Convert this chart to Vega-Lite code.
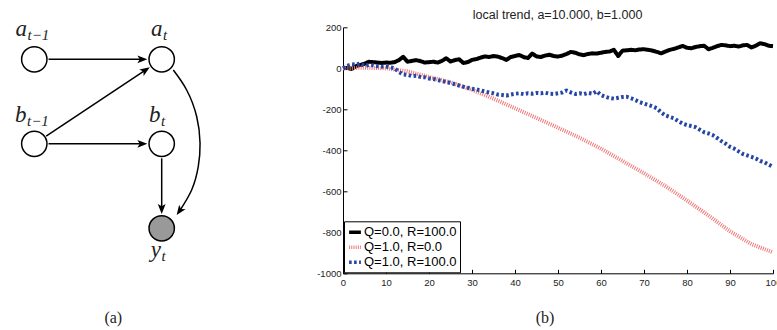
{
  "$schema": "https://vega.github.io/schema/vega-lite/v6.json",
  "width": 430,
  "height": 246,
  "autosize": "none",
  "padding": {"left": 343, "top": 27.3, "right": 4, "bottom": 56.7},
  "background": "white",
  "config": {"view": {"stroke": null}, "font": "Liberation Sans"},
  "datasets": {
    "lines": [
      {"series":"Q=0.0, R=100.0","t":0,"v":0},{"series":"Q=0.0, R=100.0","t":1,"v":2},{"series":"Q=0.0, R=100.0","t":2,"v":-3},{"series":"Q=0.0, R=100.0","t":3,"v":10},{"series":"Q=0.0, R=100.0","t":4,"v":16},{"series":"Q=0.0, R=100.0","t":5,"v":22},{"series":"Q=0.0, R=100.0","t":6,"v":32},{"series":"Q=0.0, R=100.0","t":7,"v":30},{"series":"Q=0.0, R=100.0","t":8,"v":28},{"series":"Q=0.0, R=100.0","t":9,"v":26},{"series":"Q=0.0, R=100.0","t":10,"v":28},
      {"series":"Q=0.0, R=100.0","t":11,"v":27},{"series":"Q=0.0, R=100.0","t":12,"v":30},{"series":"Q=0.0, R=100.0","t":13,"v":40},{"series":"Q=0.0, R=100.0","t":14,"v":56},{"series":"Q=0.0, R=100.0","t":15,"v":32},{"series":"Q=0.0, R=100.0","t":16,"v":36},{"series":"Q=0.0, R=100.0","t":17,"v":40},{"series":"Q=0.0, R=100.0","t":18,"v":35},{"series":"Q=0.0, R=100.0","t":19,"v":28},{"series":"Q=0.0, R=100.0","t":20,"v":30},
      {"series":"Q=0.0, R=100.0","t":21,"v":32},{"series":"Q=0.0, R=100.0","t":22,"v":28},{"series":"Q=0.0, R=100.0","t":23,"v":36},{"series":"Q=0.0, R=100.0","t":24,"v":49},{"series":"Q=0.0, R=100.0","t":25,"v":33},{"series":"Q=0.0, R=100.0","t":26,"v":40},{"series":"Q=0.0, R=100.0","t":27,"v":44},{"series":"Q=0.0, R=100.0","t":28,"v":26},{"series":"Q=0.0, R=100.0","t":29,"v":30},{"series":"Q=0.0, R=100.0","t":30,"v":41},
      {"series":"Q=0.0, R=100.0","t":31,"v":45},{"series":"Q=0.0, R=100.0","t":32,"v":52},{"series":"Q=0.0, R=100.0","t":33,"v":58},{"series":"Q=0.0, R=100.0","t":34,"v":55},{"series":"Q=0.0, R=100.0","t":35,"v":60},{"series":"Q=0.0, R=100.0","t":36,"v":57},{"series":"Q=0.0, R=100.0","t":37,"v":50},{"series":"Q=0.0, R=100.0","t":38,"v":41},{"series":"Q=0.0, R=100.0","t":39,"v":55},{"series":"Q=0.0, R=100.0","t":40,"v":60},
      {"series":"Q=0.0, R=100.0","t":41,"v":65},{"series":"Q=0.0, R=100.0","t":42,"v":55},{"series":"Q=0.0, R=100.0","t":43,"v":50},{"series":"Q=0.0, R=100.0","t":44,"v":72},{"series":"Q=0.0, R=100.0","t":45,"v":58},{"series":"Q=0.0, R=100.0","t":46,"v":55},{"series":"Q=0.0, R=100.0","t":47,"v":62},{"series":"Q=0.0, R=100.0","t":48,"v":66},{"series":"Q=0.0, R=100.0","t":49,"v":60},{"series":"Q=0.0, R=100.0","t":50,"v":57},
      {"series":"Q=0.0, R=100.0","t":51,"v":62},{"series":"Q=0.0, R=100.0","t":52,"v":70},{"series":"Q=0.0, R=100.0","t":53,"v":80},{"series":"Q=0.0, R=100.0","t":54,"v":76},{"series":"Q=0.0, R=100.0","t":55,"v":68},{"series":"Q=0.0, R=100.0","t":56,"v":64},{"series":"Q=0.0, R=100.0","t":57,"v":70},{"series":"Q=0.0, R=100.0","t":58,"v":73},{"series":"Q=0.0, R=100.0","t":59,"v":72},{"series":"Q=0.0, R=100.0","t":60,"v":76},
      {"series":"Q=0.0, R=100.0","t":61,"v":80},{"series":"Q=0.0, R=100.0","t":62,"v":82},{"series":"Q=0.0, R=100.0","t":63,"v":90},{"series":"Q=0.0, R=100.0","t":64,"v":60},{"series":"Q=0.0, R=100.0","t":65,"v":86},{"series":"Q=0.0, R=100.0","t":66,"v":88},{"series":"Q=0.0, R=100.0","t":67,"v":90},{"series":"Q=0.0, R=100.0","t":68,"v":88},{"series":"Q=0.0, R=100.0","t":69,"v":92},{"series":"Q=0.0, R=100.0","t":70,"v":93},
      {"series":"Q=0.0, R=100.0","t":71,"v":90},{"series":"Q=0.0, R=100.0","t":72,"v":86},{"series":"Q=0.0, R=100.0","t":73,"v":80},{"series":"Q=0.0, R=100.0","t":74,"v":73},{"series":"Q=0.0, R=100.0","t":75,"v":82},{"series":"Q=0.0, R=100.0","t":76,"v":90},{"series":"Q=0.0, R=100.0","t":77,"v":95},{"series":"Q=0.0, R=100.0","t":78,"v":102},{"series":"Q=0.0, R=100.0","t":79,"v":109},{"series":"Q=0.0, R=100.0","t":80,"v":100},
      {"series":"Q=0.0, R=100.0","t":81,"v":98},{"series":"Q=0.0, R=100.0","t":82,"v":104},{"series":"Q=0.0, R=100.0","t":83,"v":108},{"series":"Q=0.0, R=100.0","t":84,"v":110},{"series":"Q=0.0, R=100.0","t":85,"v":93},{"series":"Q=0.0, R=100.0","t":86,"v":100},{"series":"Q=0.0, R=100.0","t":87,"v":108},{"series":"Q=0.0, R=100.0","t":88,"v":114},{"series":"Q=0.0, R=100.0","t":89,"v":112},{"series":"Q=0.0, R=100.0","t":90,"v":108},
      {"series":"Q=0.0, R=100.0","t":91,"v":110},{"series":"Q=0.0, R=100.0","t":92,"v":106},{"series":"Q=0.0, R=100.0","t":93,"v":112},{"series":"Q=0.0, R=100.0","t":94,"v":114},{"series":"Q=0.0, R=100.0","t":95,"v":102},{"series":"Q=0.0, R=100.0","t":96,"v":110},{"series":"Q=0.0, R=100.0","t":97,"v":122},{"series":"Q=0.0, R=100.0","t":98,"v":118},{"series":"Q=0.0, R=100.0","t":99,"v":110},{"series":"Q=0.0, R=100.0","t":100,"v":108},
      {"series":"Q=1.0, R=0.0","t":0,"v":0},{"series":"Q=1.0, R=0.0","t":5,"v":3},{"series":"Q=1.0, R=0.0","t":10,"v":0},{"series":"Q=1.0, R=0.0","t":15,"v":-15},{"series":"Q=1.0, R=0.0","t":20,"v":-42},{"series":"Q=1.0, R=0.0","t":25,"v":-68},{"series":"Q=1.0, R=0.0","t":30,"v":-105},{"series":"Q=1.0, R=0.0","t":35,"v":-148},{"series":"Q=1.0, R=0.0","t":40,"v":-195},{"series":"Q=1.0, R=0.0","t":45,"v":-242},{"series":"Q=1.0, R=0.0","t":50,"v":-290},
      {"series":"Q=1.0, R=0.0","t":55,"v":-338},{"series":"Q=1.0, R=0.0","t":60,"v":-392},{"series":"Q=1.0, R=0.0","t":65,"v":-452},{"series":"Q=1.0, R=0.0","t":70,"v":-512},{"series":"Q=1.0, R=0.0","t":75,"v":-575},{"series":"Q=1.0, R=0.0","t":80,"v":-645},{"series":"Q=1.0, R=0.0","t":85,"v":-718},{"series":"Q=1.0, R=0.0","t":90,"v":-795},{"series":"Q=1.0, R=0.0","t":95,"v":-858},{"series":"Q=1.0, R=0.0","t":100,"v":-898},
      {"series":"Q=1.0, R=100.0","t":0,"v":0},{"series":"Q=1.0, R=100.0","t":1,"v":12},{"series":"Q=1.0, R=100.0","t":2,"v":20},{"series":"Q=1.0, R=100.0","t":3,"v":18},{"series":"Q=1.0, R=100.0","t":4,"v":24},{"series":"Q=1.0, R=100.0","t":5,"v":12},{"series":"Q=1.0, R=100.0","t":6,"v":16},{"series":"Q=1.0, R=100.0","t":7,"v":15},{"series":"Q=1.0, R=100.0","t":8,"v":10},{"series":"Q=1.0, R=100.0","t":9,"v":8},{"series":"Q=1.0, R=100.0","t":10,"v":9},
      {"series":"Q=1.0, R=100.0","t":11,"v":5},{"series":"Q=1.0, R=100.0","t":12,"v":0},{"series":"Q=1.0, R=100.0","t":13,"v":-18},{"series":"Q=1.0, R=100.0","t":14,"v":-30},{"series":"Q=1.0, R=100.0","t":15,"v":-32},{"series":"Q=1.0, R=100.0","t":16,"v":-38},{"series":"Q=1.0, R=100.0","t":17,"v":-36},{"series":"Q=1.0, R=100.0","t":18,"v":-42},{"series":"Q=1.0, R=100.0","t":19,"v":-44},{"series":"Q=1.0, R=100.0","t":20,"v":-50},
      {"series":"Q=1.0, R=100.0","t":21,"v":-52},{"series":"Q=1.0, R=100.0","t":22,"v":-57},{"series":"Q=1.0, R=100.0","t":23,"v":-62},{"series":"Q=1.0, R=100.0","t":24,"v":-66},{"series":"Q=1.0, R=100.0","t":25,"v":-72},{"series":"Q=1.0, R=100.0","t":26,"v":-78},{"series":"Q=1.0, R=100.0","t":27,"v":-84},{"series":"Q=1.0, R=100.0","t":28,"v":-90},{"series":"Q=1.0, R=100.0","t":29,"v":-95},{"series":"Q=1.0, R=100.0","t":30,"v":-100},
      {"series":"Q=1.0, R=100.0","t":31,"v":-103},{"series":"Q=1.0, R=100.0","t":32,"v":-108},{"series":"Q=1.0, R=100.0","t":33,"v":-113},{"series":"Q=1.0, R=100.0","t":34,"v":-118},{"series":"Q=1.0, R=100.0","t":35,"v":-122},{"series":"Q=1.0, R=100.0","t":36,"v":-128},{"series":"Q=1.0, R=100.0","t":37,"v":-130},{"series":"Q=1.0, R=100.0","t":38,"v":-133},{"series":"Q=1.0, R=100.0","t":39,"v":-128},{"series":"Q=1.0, R=100.0","t":40,"v":-124},
      {"series":"Q=1.0, R=100.0","t":41,"v":-122},{"series":"Q=1.0, R=100.0","t":42,"v":-126},{"series":"Q=1.0, R=100.0","t":43,"v":-122},{"series":"Q=1.0, R=100.0","t":44,"v":-124},{"series":"Q=1.0, R=100.0","t":45,"v":-120},{"series":"Q=1.0, R=100.0","t":46,"v":-122},{"series":"Q=1.0, R=100.0","t":47,"v":-119},{"series":"Q=1.0, R=100.0","t":48,"v":-124},{"series":"Q=1.0, R=100.0","t":49,"v":-125},{"series":"Q=1.0, R=100.0","t":50,"v":-122},
      {"series":"Q=1.0, R=100.0","t":51,"v":-118},{"series":"Q=1.0, R=100.0","t":52,"v":-108},{"series":"Q=1.0, R=100.0","t":53,"v":-118},{"series":"Q=1.0, R=100.0","t":54,"v":-125},{"series":"Q=1.0, R=100.0","t":55,"v":-122},{"series":"Q=1.0, R=100.0","t":56,"v":-126},{"series":"Q=1.0, R=100.0","t":57,"v":-120},{"series":"Q=1.0, R=100.0","t":58,"v":-124},{"series":"Q=1.0, R=100.0","t":59,"v":-112},{"series":"Q=1.0, R=100.0","t":60,"v":-130},
      {"series":"Q=1.0, R=100.0","t":61,"v":-139},{"series":"Q=1.0, R=100.0","t":62,"v":-145},{"series":"Q=1.0, R=100.0","t":63,"v":-148},{"series":"Q=1.0, R=100.0","t":64,"v":-144},{"series":"Q=1.0, R=100.0","t":65,"v":-140},{"series":"Q=1.0, R=100.0","t":66,"v":-139},{"series":"Q=1.0, R=100.0","t":67,"v":-146},{"series":"Q=1.0, R=100.0","t":68,"v":-155},{"series":"Q=1.0, R=100.0","t":69,"v":-165},{"series":"Q=1.0, R=100.0","t":70,"v":-172},
      {"series":"Q=1.0, R=100.0","t":71,"v":-179},{"series":"Q=1.0, R=100.0","t":72,"v":-186},{"series":"Q=1.0, R=100.0","t":73,"v":-195},{"series":"Q=1.0, R=100.0","t":74,"v":-215},{"series":"Q=1.0, R=100.0","t":75,"v":-230},{"series":"Q=1.0, R=100.0","t":76,"v":-238},{"series":"Q=1.0, R=100.0","t":77,"v":-244},{"series":"Q=1.0, R=100.0","t":78,"v":-258},{"series":"Q=1.0, R=100.0","t":79,"v":-270},{"series":"Q=1.0, R=100.0","t":80,"v":-277},
      {"series":"Q=1.0, R=100.0","t":81,"v":-282},{"series":"Q=1.0, R=100.0","t":82,"v":-287},{"series":"Q=1.0, R=100.0","t":83,"v":-300},{"series":"Q=1.0, R=100.0","t":84,"v":-312},{"series":"Q=1.0, R=100.0","t":85,"v":-318},{"series":"Q=1.0, R=100.0","t":86,"v":-326},{"series":"Q=1.0, R=100.0","t":87,"v":-340},{"series":"Q=1.0, R=100.0","t":88,"v":-355},{"series":"Q=1.0, R=100.0","t":89,"v":-368},{"series":"Q=1.0, R=100.0","t":90,"v":-383},
      {"series":"Q=1.0, R=100.0","t":91,"v":-392},{"series":"Q=1.0, R=100.0","t":92,"v":-405},{"series":"Q=1.0, R=100.0","t":93,"v":-418},{"series":"Q=1.0, R=100.0","t":94,"v":-425},{"series":"Q=1.0, R=100.0","t":95,"v":-432},{"series":"Q=1.0, R=100.0","t":96,"v":-440},{"series":"Q=1.0, R=100.0","t":97,"v":-452},{"series":"Q=1.0, R=100.0","t":98,"v":-458},{"series":"Q=1.0, R=100.0","t":99,"v":-470},{"series":"Q=1.0, R=100.0","t":100,"v":-481}
    ],
    "nodes": [
      {"x":0,"y":2,"kind":"hidden"},{"x":1,"y":2,"kind":"hidden"},{"x":0,"y":1,"kind":"hidden"},{"x":1,"y":1,"kind":"hidden"},{"x":1,"y":0,"kind":"observed"}
    ],
    "edges": [
      {"x":0.112,"y":2,"x2":0.846,"y2":2},
      {"x":0.093,"y":1.091,"x2":0.872,"y2":1.872},
      {"x":0.112,"y":1,"x2":0.846,"y2":1},
      {"x":1,"y":0.828,"x2":1,"y2":0.232}
    ],
    "curve": [
      {"i":0,"x":1.091,"y":1.873},{"i":1,"x":1.196,"y":1.637},{"i":2,"x":1.275,"y":1.32},{"i":3,"x":1.301,"y":1.006},{"i":4,"x":1.287,"y":0.729},{"i":5,"x":1.235,"y":0.453},{"i":6,"x":1.141,"y":0.207}
    ],
    "heads": [
      {"x":0.846,"y":2,"a":90},{"x":0.872,"y":1.872,"a":56.4},{"x":0.846,"y":1,"a":90},{"x":1,"y":0.232,"a":180},{"x":1.141,"y":0.207,"a":215}
    ],
    "labels": [
      {"x":-0.057,"y":2.276,"m":"a","s":"t−1"},
      {"x":1.006,"y":2.276,"m":"a","s":"t"},
      {"x":-0.061,"y":1.262,"m":"b","s":"t−1"},
      {"x":0.991,"y":1.262,"m":"b","s":"t"},
      {"x":0.995,"y":-0.336,"m":"y","s":"t"}
    ],
    "captions": [
      {"x":0.62,"y":-1.065,"c":"(a)"},
      {"x":4.009,"y":-1.065,"c":"(b)"}
    ],
    "heading": [
      {"x":4.107,"y":2.483,"c":"local trend, a=10.000, b=1.000"}
    ]
  },
  "layer": [
    {
      "data": {"name": "lines"},
      "mark": {"type": "line", "strokeWidth": 4, "strokeCap": "butt", "strokeJoin": "round"},
      "encoding": {
        "x": {"field": "t", "type": "quantitative", "scale": {"domain": [0, 100], "nice": false, "zero": false},
              "axis": {"values": [0,10,20,30,40,50,60,70,80,90,100], "title": null, "grid": false, "tickSize": -4, "labelPadding": 8.5, "labelFlush": false, "labelOverlap": false, "domainColor": "black", "tickColor": "black", "labelColor": "#222222", "labelFont": "Liberation Sans", "labelFontSize": 9.5}},
        "y": {"field": "v", "type": "quantitative", "scale": {"domain": [-1000, 200], "nice": false, "zero": false},
              "axis": {"values": [-1000,-800,-600,-400,-200,0,200], "format": "d", "title": null, "grid": false, "tickSize": -4, "labelPadding": 6, "labelFlush": false, "labelOverlap": false, "domainColor": "black", "tickColor": "black", "labelColor": "#222222", "labelFont": "Liberation Sans", "labelFontSize": 9.5, "labelExpr": "replace(datum.label, '−', '-')"}},
        "color": {"field": "series", "type": "nominal",
                  "scale": {"domain": ["Q=0.0, R=100.0", "Q=1.0, R=0.0", "Q=1.0, R=100.0"], "range": ["#000000", "#f07878", "#2646a6"]},
                  "legend": {"title": null, "orient": "bottom-left", "offset": 1, "fillColor": "white", "strokeColor": "black", "padding": 3, "cornerRadius": 0, "symbolType": "stroke", "symbolSize": 140, "symbolStrokeWidth": 3.5, "labelFont": "Liberation Sans", "labelFontSize": 13, "labelColor": "black", "labelOffset": 1, "rowPadding": 0}},
        "strokeDash": {"field": "series", "type": "nominal",
                  "scale": {"domain": ["Q=0.0, R=100.0", "Q=1.0, R=0.0", "Q=1.0, R=100.0"], "range": [[1, 0], [1, 1.2], [2.6, 2.4]]},
                  "legend": {"title": null, "orient": "bottom-left", "offset": 1, "fillColor": "white", "strokeColor": "black", "padding": 3, "cornerRadius": 0, "symbolType": "stroke", "symbolSize": 140, "symbolStrokeWidth": 3.5, "labelFont": "Liberation Sans", "labelFontSize": 13, "labelColor": "black", "labelOffset": 1, "rowPadding": 0}}
      }
    },
    {
      "encoding": {
        "x": {"field": "x", "type": "quantitative", "scale": {"domain": [2.423, 5.798], "nice": false, "zero": false}, "axis": null},
        "y": {"field": "y", "type": "quantitative", "scale": {"domain": [-0.5325, 2.379], "nice": false, "zero": false}, "axis": null}
      },
      "layer": [
        {
          "data": {"name": "edges"},
          "mark": {"type": "rule", "color": "black", "strokeWidth": 1.5},
          "encoding": {"x2": {"field": "x2"}, "y2": {"field": "y2"}}
        },
        {
          "data": {"name": "curve"},
          "mark": {"type": "line", "color": "black", "strokeWidth": 1.5, "interpolate": "natural"},
          "encoding": {"order": {"field": "i", "type": "quantitative"}}
        },
        {
          "data": {"name": "heads"},
          "mark": {"type": "point", "shape": "M0,-1L0.75,0.9L0,0.45L-0.75,0.9Z", "filled": true, "color": "black", "opacity": 1, "size": 110, "strokeWidth": 0},
          "encoding": {"angle": {"field": "a", "type": "quantitative", "scale": null}}
        },
        {
          "data": {"name": "nodes"},
          "mark": {"type": "point", "shape": "circle", "filled": true, "size": 642, "stroke": "black", "strokeWidth": 1.5, "opacity": 1},
          "encoding": {"fill": {"field": "kind", "type": "nominal", "scale": {"domain": ["hidden", "observed"], "range": ["white", "#999999"]}, "legend": null}}
        },
        {
          "data": {"name": "labels"},
          "mark": {"type": "text", "font": "Liberation Serif", "fontStyle": "italic", "fontSize": 23, "align": "right", "baseline": "alphabetic", "color": "#222222"},
          "encoding": {"text": {"field": "m"}}
        },
        {
          "data": {"name": "labels"},
          "mark": {"type": "text", "font": "Liberation Serif", "fontStyle": "italic", "fontSize": 15, "align": "left", "baseline": "alphabetic", "dx": 0.5, "dy": 4, "color": "#222222"},
          "encoding": {"text": {"field": "s"}}
        },
        {
          "data": {"name": "captions"},
          "mark": {"type": "text", "font": "Liberation Serif", "fontSize": 16, "align": "center", "baseline": "middle", "color": "#222222"},
          "encoding": {"text": {"field": "c"}}
        },
        {
          "data": {"name": "heading"},
          "mark": {"type": "text", "font": "Liberation Sans", "fontSize": 12.5, "align": "center", "baseline": "alphabetic", "color": "#222222"},
          "encoding": {"text": {"field": "c"}}
        }
      ]
    }
  ],
  "resolve": {"scale": {"x": "independent", "y": "independent"}}
}
